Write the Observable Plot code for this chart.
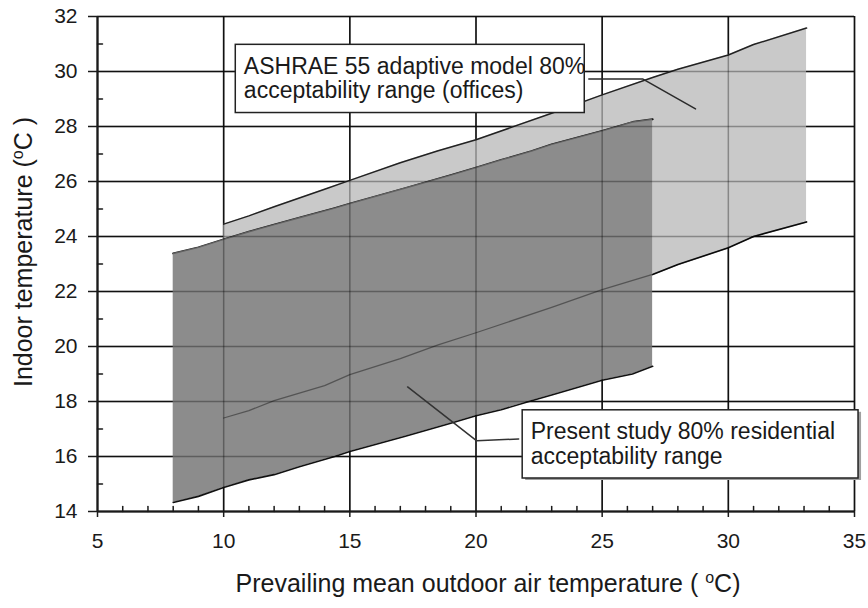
<!DOCTYPE html>
<html><head><meta charset="utf-8">
<script src="https://cdn.jsdelivr.net/npm/d3@7"></script>
<script src="https://cdn.jsdelivr.net/npm/@observablehq/plot@0.6"></script>
<style>
html,body{margin:0;padding:0;background:#fff;}
#chart svg{display:block;}
</style>
</head><body><div id="chart"></div>
<script>
// ---- data ----
const xTicks = [5, 10, 15, 20, 25, 30, 35];
const yTicks = [14, 16, 18, 20, 22, 24, 26, 28, 30, 32];
const xMinor = [6,7,8,9,11,12,13,14,16,17,18,19,21,22,23,24,26,27,28,29,31,32,33,34];
const yMinor = [15,17,19,21,23,25,27,29,31];

// ASHRAE 55 adaptive model 80% acceptability range (offices)
const ashraeX  = [10, 11, 12, 14, 15, 17, 18.5, 20, 23, 25, 27, 28, 30, 31, 33.1];
const ashraeHi = [24.45, 24.75, 25.08, 25.72, 26.04, 26.68, 27.12, 27.52, 28.48, 29.15, 29.78, 30.08, 30.6, 30.98, 31.58];
const ashraeLo = [17.40, 17.67, 18.03, 18.58, 18.98, 19.56, 20.06, 20.5, 21.42, 22.07, 22.62, 22.98, 23.59, 24.0, 24.53];

// Present study 80% residential acceptability range
const studyX  = [8, 9, 10, 11, 12, 13, 14.4, 15, 17.2, 19, 20, 21, 22.2, 23, 25, 26.2, 27];
const studyHi = [23.38, 23.6, 23.89, 24.17, 24.43, 24.68, 25.03, 25.19, 25.76, 26.23, 26.5, 26.78, 27.1, 27.35, 27.84, 28.16, 28.26];
const studyLo = [14.33, 14.55, 14.87, 15.15, 15.34, 15.63, 16.0, 16.18, 16.74, 17.21, 17.48, 17.7, 18.03, 18.24, 18.77, 19.0, 19.28];

// callout texts
const calloutLabels = [
  "ASHRAE 55 adaptive model 80%\nacceptability range (offices)",
  "Present study 80% residential\nacceptability range"
];
const xTitle = "Prevailing mean outdoor air temperature ( oC)";
const yTitle = "Indoor temperature (oC )";

// callout anchors (data units)
const calloutBox = [
  {x1: 10.48, x2: 24.31, y1: 28.49, y2: 30.97, tx: 10.80, ty: 30.55},
  {x1: 21.85, x2: 35.16, y1: 15.20, y2: 17.68, tx: 22.17, ty: 17.26}
];
const ashraeLeaderX = [24.47, 26.6, 28.7];
const ashraeLeaderY = [29.73, 29.73, 28.64];
const studyLeaderX  = [21.69, 20.03, 17.29];
const studyLeaderY  = [16.64, 16.57, 18.53];

// ---- tables ----
const ashrae = ashraeX.map((x, i) => ({x, hi: ashraeHi[i], lo: ashraeLo[i]}));
const study = studyX.map((x, i) => ({x, hi: studyHi[i], lo: studyLo[i]}));
const callouts = calloutBox.map((b, i) => ({...b, label: calloutLabels[i]}));
const ashraeLeader = ashraeLeaderX.map((x, i) => ({x, y: ashraeLeaderY[i]}));
const studyLeader = studyLeaderX.map((x, i) => ({x, y: studyLeaderY[i]}));

const ink = "#1a1a1a";
const tickShape = {draw(context, l) { context.moveTo(0, 0); context.lineTo(0, -l); }};
const gridX = xTicks;
const gridY = yTicks;

const chart = Plot.plot({
  width: 868,
  height: 608,
  marginLeft: 97,
  marginRight: 14,
  marginTop: 16,
  marginBottom: 97,
  style: {fontFamily: "'Liberation Sans', Arial, sans-serif", fontSize: "21px", color: ink, background: "white"},
  x: {domain: [5, 35], label: null},
  y: {domain: [14, 32], label: null},
  marks: [
    // grid (under)
    Plot.ruleX(gridX, {stroke: ink, strokeWidth: 1.6}),
    Plot.ruleY(gridY, {stroke: ink, strokeWidth: 1.6}),
    // ASHRAE band
    Plot.areaY(ashrae, {x: "x", y1: "lo", y2: "hi", fill: "#c9c9c9"}),
    Plot.lineY(ashrae, {x: "x", y: "hi", stroke: "#222", strokeWidth: 1.5}),
    Plot.lineY(ashrae, {x: "x", y: "lo", stroke: "#111", strokeWidth: 1.6}),
    // study band
    Plot.lineY(study, {x: "x", y: "hi", stroke: "#111", strokeWidth: 2}),
    Plot.areaY(study, {x: "x", y1: "lo", y2: "hi", fill: "#8c8c8c"}),
    Plot.lineY(study, {x: "x", y: "hi", stroke: "#000", strokeOpacity: 0.3, strokeWidth: 1.2}),
    Plot.lineY(study, {x: "x", y: "lo", stroke: "#111", strokeWidth: 1.6}),
    // overlay grid + ASHRAE lower line seen through the bands
    Plot.ruleX(gridX, {stroke: "#000", strokeOpacity: 0.33, strokeWidth: 1.5}),
    Plot.ruleY(gridY, {stroke: "#000", strokeOpacity: 0.33, strokeWidth: 1.5}),
    Plot.lineY(ashrae, {x: "x", y: "lo", stroke: "#000", strokeOpacity: 0.4, strokeWidth: 1.3}),
    // axes lines
    Plot.ruleX([5], {stroke: ink, strokeWidth: 2}),
    Plot.ruleY([14], {stroke: ink, strokeWidth: 2}),
    // major ticks + labels
    Plot.axisX({ticks: xTicks, tickSize: 6, tickPadding: 16, strokeWidth: 1.5, fontSize: 21, tickFormat: d => String(d)}),
    Plot.axisY({ticks: yTicks, tickSize: 9, tickPadding: 11, strokeWidth: 1.5, fontSize: 21, tickFormat: d => String(d)}),
    // minor ticks (inside)
    Plot.vector(xMinor, {x: d => d, y: 14, length: 5, rotate: 0, anchor: "start", shape: tickShape, stroke: ink, strokeWidth: 1.5}),
    Plot.vector(yMinor, {x: 5, y: d => d, length: 5, rotate: 90, anchor: "start", shape: tickShape, stroke: ink, strokeWidth: 1.5}),
    // leaders
    Plot.line(ashraeLeader, {x: "x", y: "y", stroke: "#2a2a2a", strokeWidth: 1.5}),
    Plot.line(studyLeader, {x: "x", y: "y", stroke: "#333", strokeWidth: 1.5}),
    // callout boxes
    Plot.rect([callouts[1]], {x1: "x1", x2: "x2", y1: "y1", y2: "y2", dx: 3, dy: 2, fill: "#a0a0a0"}),
    Plot.rect(callouts, {x1: "x1", x2: "x2", y1: "y1", y2: "y2", fill: "white", stroke: "#222", strokeWidth: 1.5}),
    Plot.text(callouts, {x: "tx", y: "ty", text: "label", textAnchor: "start", lineAnchor: "top", lineHeight: 1.07, fontSize: 23, fill: ink}),
    // axis titles
    Plot.text([xTitle], {frameAnchor: "bottom", textAnchor: "middle", dx: 12, dy: 80, fontSize: 25, fill: ink}),
    Plot.text([yTitle], {frameAnchor: "left", textAnchor: "middle", dx: -74, dy: -12, rotate: -90, fontSize: 25, fill: ink})
  ]
});

document.getElementById("chart").appendChild(chart);

// superscript "o" in the unit labels
d3.select(chart).selectAll("text").each(function() {
  const s = this.textContent;
  const m = s.match(/^(.*\(\s?)o(C.*)$/);
  if (!m || this.querySelector("tspan")) return;
  const t = d3.select(this);
  t.text(null);
  t.append("tspan").text(m[1]);
  t.append("tspan").attr("font-size", "16px").attr("dy", "-9").text("o");
  t.append("tspan").attr("dy", "9").text(m[2]);
});
</script>
</body></html>
